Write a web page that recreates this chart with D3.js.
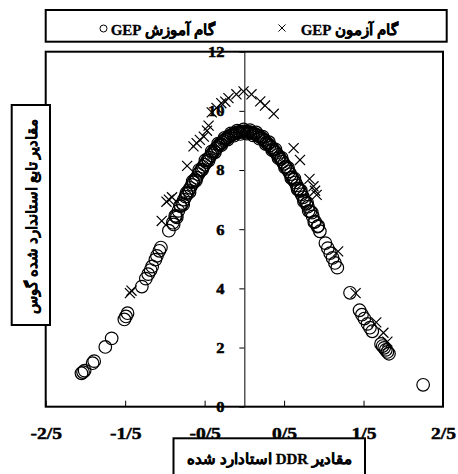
<!DOCTYPE html>
<html>
<head>
<meta charset="utf-8">
<script src="https://cdn.jsdelivr.net/npm/d3@7"></script>
<style>
  html, body { margin: 0; padding: 0; background: #fff; }
  svg { display: block; }
</style>
</head>
<body>
<svg id="chart" width="458" height="474"></svg>
<script>
// Training step (circles): standardized DDR vs standardized Gaussian function
const trainX = [-2.05, -2.03, -2.01, -1.91, -1.89, -1.75, -1.67, -1.51, -1.49, -1.47,
  -1.29, -1.24, -1.21, -1.18, -1.16, -1.12, -1.10, -1.07, -1.05, -0.95,
  -0.90, -0.86, -0.83, -0.80, -0.78, -0.76, -0.74, -0.72, -0.70, -0.68,
  -0.66, -0.64, -0.62, -0.60, -0.58, -0.56, -0.54, -0.52, -0.50, -0.48,
  -0.46, -0.44, -0.42, -0.40, -0.38, -0.36, -0.34, -0.32, -0.30, -0.28,
  -0.26, -0.24, -0.22, -0.20, -0.18, -0.16, -0.14, -0.12, -0.10, -0.08,
  -0.06, -0.04, -0.02, 0.00, 0.02, 0.04, 0.06, 0.08, 0.10, 0.12,
  0.14, 0.16, 0.18, 0.20, 0.22, 0.24, 0.26, 0.28, 0.30, 0.32,
  0.34, 0.36, 0.38, 0.40, 0.42, 0.44, 0.46, 0.48, 0.50, 0.52,
  0.54, 0.56, 0.58, 0.60, 0.62, 0.64, 0.66, 0.68, 0.70, 0.72,
  0.74, 0.76, 0.78, 0.80, 0.83, 0.86, 0.89, 0.92, 0.95, 1.02,
  1.05, 1.08, 1.11, 1.14, 1.17, 1.33, 1.45, 1.48, 1.51, 1.55,
  1.58, 1.61, 1.72, 1.74, 1.76, 1.78, 1.80, 1.82, 2.25,
  -0.89, -0.87, -0.85, -0.81, -0.77, -0.73, -0.69, -0.65, -0.61, -0.57,
  -0.53, -0.49, -0.45, -0.41, -0.37, -0.33, -0.29, -0.25, -0.21, -0.17,
  -0.13, -0.09, -0.05, -0.01, 0.03, 0.07, 0.11, 0.15, 0.19, 0.23,
  0.27, 0.31, 0.35, 0.39, 0.43, 0.47, 0.51, 0.55, 0.59, 0.63,
  0.67, 0.71, 0.75, 0.79, 0.81, 0.85, 0.88, 0.93];
const trainY = [1.13, 1.17, 1.22, 1.47, 1.54, 2.02, 2.31, 2.95, 3.05, 3.16,
  4.06, 4.33, 4.48, 4.62, 4.74, 4.97, 5.10, 5.27, 5.38, 5.95,
  6.22, 6.44, 6.62, 6.78, 6.88, 7.00, 7.10, 7.19, 7.31, 7.40,
  7.50, 7.58, 7.68, 7.74, 7.86, 7.94, 8.01, 8.11, 8.18, 8.27,
  8.37, 8.42, 8.50, 8.57, 8.65, 8.72, 8.77, 8.84, 8.88, 8.94,
  8.99, 9.04, 9.08, 9.11, 9.16, 9.18, 9.22, 9.24, 9.26, 9.27,
  9.29, 9.30, 9.30, 9.31, 9.30, 9.29, 9.28, 9.27, 9.25, 9.23,
  9.21, 9.18, 9.15, 9.12, 9.08, 9.03, 8.99, 8.93, 8.88, 8.83,
  8.77, 8.71, 8.64, 8.58, 8.51, 8.44, 8.36, 8.28, 8.21, 8.12,
  8.04, 7.95, 7.86, 7.76, 7.67, 7.58, 7.48, 7.38, 7.29, 7.18,
  7.08, 6.97, 6.86, 6.76, 6.60, 6.43, 6.26, 6.09, 5.93, 5.53,
  5.36, 5.19, 5.03, 4.86, 4.70, 3.85, 3.26, 3.11, 2.98, 2.80,
  2.67, 2.55, 2.12, 2.05, 1.99, 1.92, 1.85, 1.79, 0.74,
  6.16, 6.45, 6.40, 6.79, 6.83, 7.22, 7.25, 7.62, 7.64, 8.00,
  8.01, 8.33, 8.32, 8.63, 8.60, 8.89, 8.84, 9.09, 9.03, 9.24,
  9.16, 9.33, 9.22, 9.37, 9.23, 9.35, 9.17, 9.27, 9.06, 9.13,
  8.88, 8.94, 8.67, 8.70, 8.40, 8.41, 8.09, 8.07, 7.73, 7.71,
  7.35, 7.31, 6.94, 6.89, 6.62, 6.56, 6.24, 6.11];

// Test step (crosses)
const testX = [-1.44, -1.42, -1.04, -0.98, -0.95, -0.91, -0.72, -0.64, -0.60, -0.56,
  -0.51, -0.47, -0.45, -0.41, -0.35, -0.29, -0.24, -0.20, -0.10, -0.01,
  0.09, 0.20, 0.26, 0.37, 0.62, 0.70, 0.82, 0.87, 0.89, 0.91,
  1.18, 1.40, 1.66, 1.75, 1.80];
const testY = [3.84, 3.92, 6.28, 6.93, 7.00, 7.08, 8.14, 8.80, 8.91, 9.02,
  9.13, 9.33, 9.50, 9.95, 10.10, 10.26, 10.31, 10.43, 10.56, 10.66,
  10.56, 10.32, 10.18, 9.90, 8.74, 8.34, 7.70, 7.45, 7.30, 7.16,
  5.25, 3.84, 2.85, 2.50, 2.20];

const xTicks = [-2.5, -1.5, -0.5, 0.5, 1.5, 2.5];
const yTicks = [0, 2, 4, 6, 8, 10, 12];

const legendLabels = ["گام آموزش GEP", "گام آزمون GEP"];
const xTitle = "مقادیر DDR استادارد شده";
const yTitle = "مقادیر  تابع استاندارد شده گوس";

const FONT = '"Liberation Serif", "Times New Roman", "DejaVu Serif", serif';

const svg = d3.select("#chart");

const plotLeft = 45.7, plotRight = 443, plotTop = 51.7, plotBottom = 406.7;
const x = d3.scaleLinear().domain([-2.5, 2.5]).range([plotLeft, plotRight]);
const y = d3.scaleLinear().domain([0, 12]).range([plotBottom, plotTop]);

// Heavy bold text: bold face plus a thin outline for extra weight
function boldText(sel, size, weight) {
  return sel.style("font-family", FONT).style("font-weight", "bold")
    .style("font-size", size + "px").style("fill", "#000")
    .style("stroke", "#000").style("stroke-width", weight + "px");
}

// Plot frame
svg.append("rect")
  .attr("x", plotLeft).attr("y", plotTop)
  .attr("width", plotRight - plotLeft).attr("height", plotBottom - plotTop)
  .attr("fill", "none").attr("stroke", "#000").attr("stroke-width", 2);

// Bottom axis: inward ticks, labels use "/" as the decimal separator
const xAxis = d3.axisBottom(x)
  .tickValues(xTicks)
  .tickFormat(d => String(d).replace(".", "/"))
  .tickSizeInner(-6).tickSizeOuter(0).tickPadding(20);
const gx = svg.append("g").attr("transform", `translate(0,${plotBottom})`).call(xAxis);
gx.select(".domain").remove();
gx.selectAll(".tick line").attr("stroke", "#000").attr("stroke-width", 1);
boldText(gx.selectAll(".tick text"), 17, 0.5).attr("transform", "scale(1.15,1)");

// Vertical axis through x = 0
const yAxis = d3.axisLeft(y)
  .tickValues(yTicks)
  .tickSizeInner(5).tickSizeOuter(0).tickPadding(13);
const gy = svg.append("g").attr("transform", `translate(${x(0)},0)`).call(yAxis);
gy.select(".domain").attr("stroke", "#000").attr("stroke-width", 1);
gy.selectAll(".tick line").attr("stroke", "#000").attr("stroke-width", 1);
boldText(gy.selectAll(".tick text"), 15, 0.5).attr("transform", "scale(1.1,1)");

// Training points
svg.append("g").selectAll("circle")
  .data(d3.range(trainX.length))
  .join("circle")
  .attr("cx", i => x(trainX[i]))
  .attr("cy", i => y(trainY[i]))
  .attr("r", 6.3)
  .attr("fill", "none").attr("stroke", "#000").attr("stroke-width", 1.2);

// Test points
const cross = d3.symbol(d3.symbolX, 68);
svg.append("g").selectAll("path")
  .data(d3.range(testX.length))
  .join("path")
  .attr("transform", i => `translate(${x(testX[i])},${y(testY[i])})`)
  .attr("d", cross)
  .attr("fill", "none").attr("stroke", "#000").attr("stroke-width", 1.2);

// Legend
const lg = svg.append("g");
lg.append("rect")
  .attr("x", 45.7).attr("y", 10).attr("width", 401).attr("height", 31.7)
  .attr("fill", "#fff").attr("stroke", "#000").attr("stroke-width", 2);
lg.append("circle").attr("cx", 103.5).attr("cy", 28.5).attr("r", 3.5)
  .attr("fill", "none").attr("stroke", "#000").attr("stroke-width", 1);
lg.append("path").attr("transform", "translate(282,28)")
  .attr("d", d3.symbol(d3.symbolX, 34)).attr("fill", "none").attr("stroke", "#000").attr("stroke-width", 1);
boldText(lg.append("text"), 15, 0.3).attr("x", 215).attr("y", 35).attr("direction", "rtl")
  .attr("text-anchor", "start").text(legendLabels[0]);
boldText(lg.append("text"), 15, 0.3).attr("x", 398).attr("y", 35).attr("direction", "rtl")
  .attr("text-anchor", "start").text(legendLabels[1]);

// Y title box
svg.append("rect")
  .attr("x", 11.7).attr("y", 105).attr("width", 38.3).attr("height", 220)
  .attr("fill", "#fff").attr("stroke", "#000").attr("stroke-width", 2);
boldText(svg.append("text"), 15, 0.3)
  .attr("transform", "translate(37,216) rotate(-90)")
  .attr("direction", "rtl").attr("text-anchor", "middle")
  .text(yTitle);

// X title box
svg.append("rect")
  .attr("x", 173.5).attr("y", 438.3).attr("width", 191.5).attr("height", 50)
  .attr("fill", "#fff").attr("stroke", "#000").attr("stroke-width", 2);
boldText(svg.append("text"), 15, 0.3)
  .attr("x", 269.5).attr("y", 463.5)
  .attr("direction", "rtl").attr("text-anchor", "middle")
  .text(xTitle);
</script>
</body>
</html>
